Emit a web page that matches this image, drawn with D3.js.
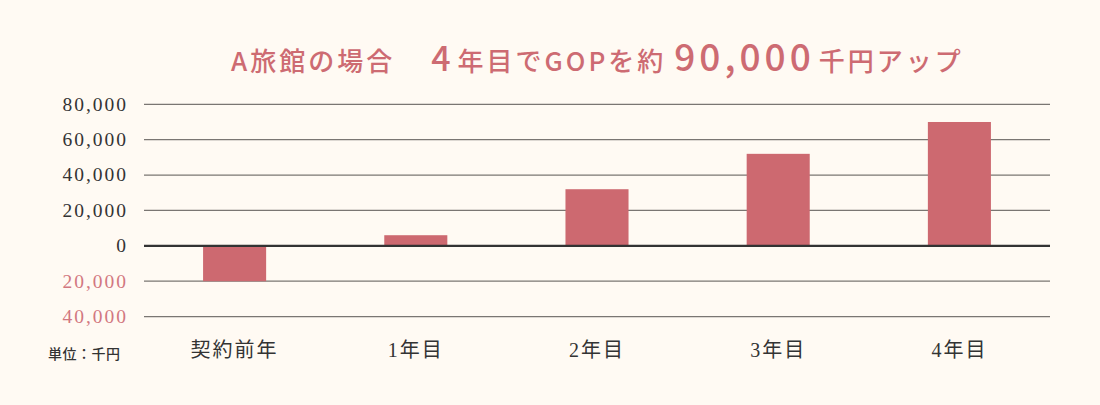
<!DOCTYPE html>
<html>
<head>
<meta charset="utf-8">
<title>GOP</title>
<script src="https://cdn.jsdelivr.net/npm/d3@7/dist/d3.min.js"></script>
<style>
  html, body { margin: 0; padding: 0; background: #fffaf3; }
  svg { display: block; }
</style>
</head>
<body>
<div id="chart"></div>
<script>
// data
var categories = ["契約前年", "1年目", "2年目", "3年目", "4年目"];
var gopValues = [-20000, 6000, 32000, 52000, 70000];
var yTicks = [80000, 60000, 40000, 20000, 0, -20000, -40000];
var titleParts = [
    {text: "A旅館の場合", size: 26, dx: 0, ls: 3},
    {text: "4", size: 34, dx: 36, ls: 3},
    {text: "年目でGOPを約", size: 26, dx: 4, ls: 3},
    {text: "90,000", size: 37, dx: 8, ls: 4},
    {text: "千円アップ", size: 26, dx: 4, ls: 3}
];
var unitLabel = "単位：千円";

var width = 1100, height = 405;
// plot area (named so it does not clash with window.top)
var plotLeft = 144, plotRight = 1050, plotTop = 104.3, plotBottom = 316.6;
var pink = "#cd6970", dark = "#333";

var svg = d3.select("#chart").append("svg")
    .attr("width", width)
    .attr("height", height);

svg.append("rect")
    .attr("width", width).attr("height", height)
    .attr("fill", "#fffaf3");

var x = d3.scaleBand()
    .domain(categories)
    .range([plotLeft, plotRight])
    .paddingInner(0.652)
    .paddingOuter(0.326);

var y = d3.scaleLinear()
    .domain([-40000, 80000])
    .range([plotBottom, plotTop]);

// title
var title = svg.append("text")
    .attr("x", 231)
    .attr("y", 71)
    .attr("fill", "#cd6b72")
    .attr("font-family", "'Noto Sans CJK JP', 'Noto Sans', sans-serif")
    .attr("font-weight", 500);
title.selectAll("tspan")
    .data(titleParts)
    .enter().append("tspan")
    .attr("dx", function(d) { return d.dx; })
    .attr("letter-spacing", function(d) { return d.ls + "px"; })
    .attr("font-size", function(d) { return d.size + "px"; })
    .text(function(d) { return d.text; });

// gridlines
svg.append("g")
    .selectAll("line")
    .data(yTicks.filter(function(d) { return d !== 0; }))
    .enter().append("line")
    .attr("x1", plotLeft).attr("x2", plotRight)
    .attr("y1", function(d) { return y(d); })
    .attr("y2", function(d) { return y(d); })
    .attr("stroke", "#7a7672")
    .attr("stroke-width", 1.2);

// bars
svg.append("g")
    .selectAll("rect")
    .data(gopValues)
    .enter().append("rect")
    .attr("x", function(d, i) { return x(categories[i]); })
    .attr("width", x.bandwidth())
    .attr("y", function(d) { return y(Math.max(0, d)); })
    .attr("height", function(d) { return Math.abs(y(d) - y(0)); })
    .attr("fill", pink);

// zero line
svg.append("line")
    .attr("x1", plotLeft).attr("x2", plotRight)
    .attr("y1", y(0)).attr("y2", y(0))
    .attr("stroke", dark)
    .attr("stroke-width", 2.4);

// y axis labels (negatives shown without sign, in pink)
var yAxis = d3.axisLeft(y)
    .tickValues(yTicks)
    .tickSize(0)
    .tickPadding(0)
    .tickFormat(function(d) { return d3.format(",")(Math.abs(d)); });
var ya = svg.append("g")
    .attr("transform", "translate(128,0)")
    .call(yAxis);
ya.select(".domain").remove();
ya.selectAll("text")
    .attr("font-family", "'Liberation Serif', 'DejaVu Serif', serif")
    .attr("font-size", "19.5px")
    .attr("letter-spacing", "2px")
    .attr("dy", "0.3em")
    .attr("fill", function(d) { return d < 0 ? "#d27780" : dark; });

// x axis labels
var xAxis = d3.axisBottom(x).tickSize(0).tickPadding(0);
var xa = svg.append("g")
    .attr("transform", "translate(0,340)")
    .call(xAxis);
xa.select(".domain").remove();
xa.selectAll("text")
    .attr("font-family", "'Liberation Serif', 'Noto Sans CJK JP', serif")
    .attr("font-size", "20px")
    .attr("letter-spacing", "2px")
    .attr("dy", "0.85em")
    .attr("fill", dark);

// unit
svg.append("text")
    .attr("x", 48)
    .attr("y", 359)
    .attr("font-family", "'Noto Sans CJK JP', sans-serif")
    .attr("font-size", "14px")
    .attr("font-weight", 500)
    .attr("letter-spacing", "0.5px")
    .attr("fill", dark)
    .text(unitLabel);
</script>
</body>
</html>
